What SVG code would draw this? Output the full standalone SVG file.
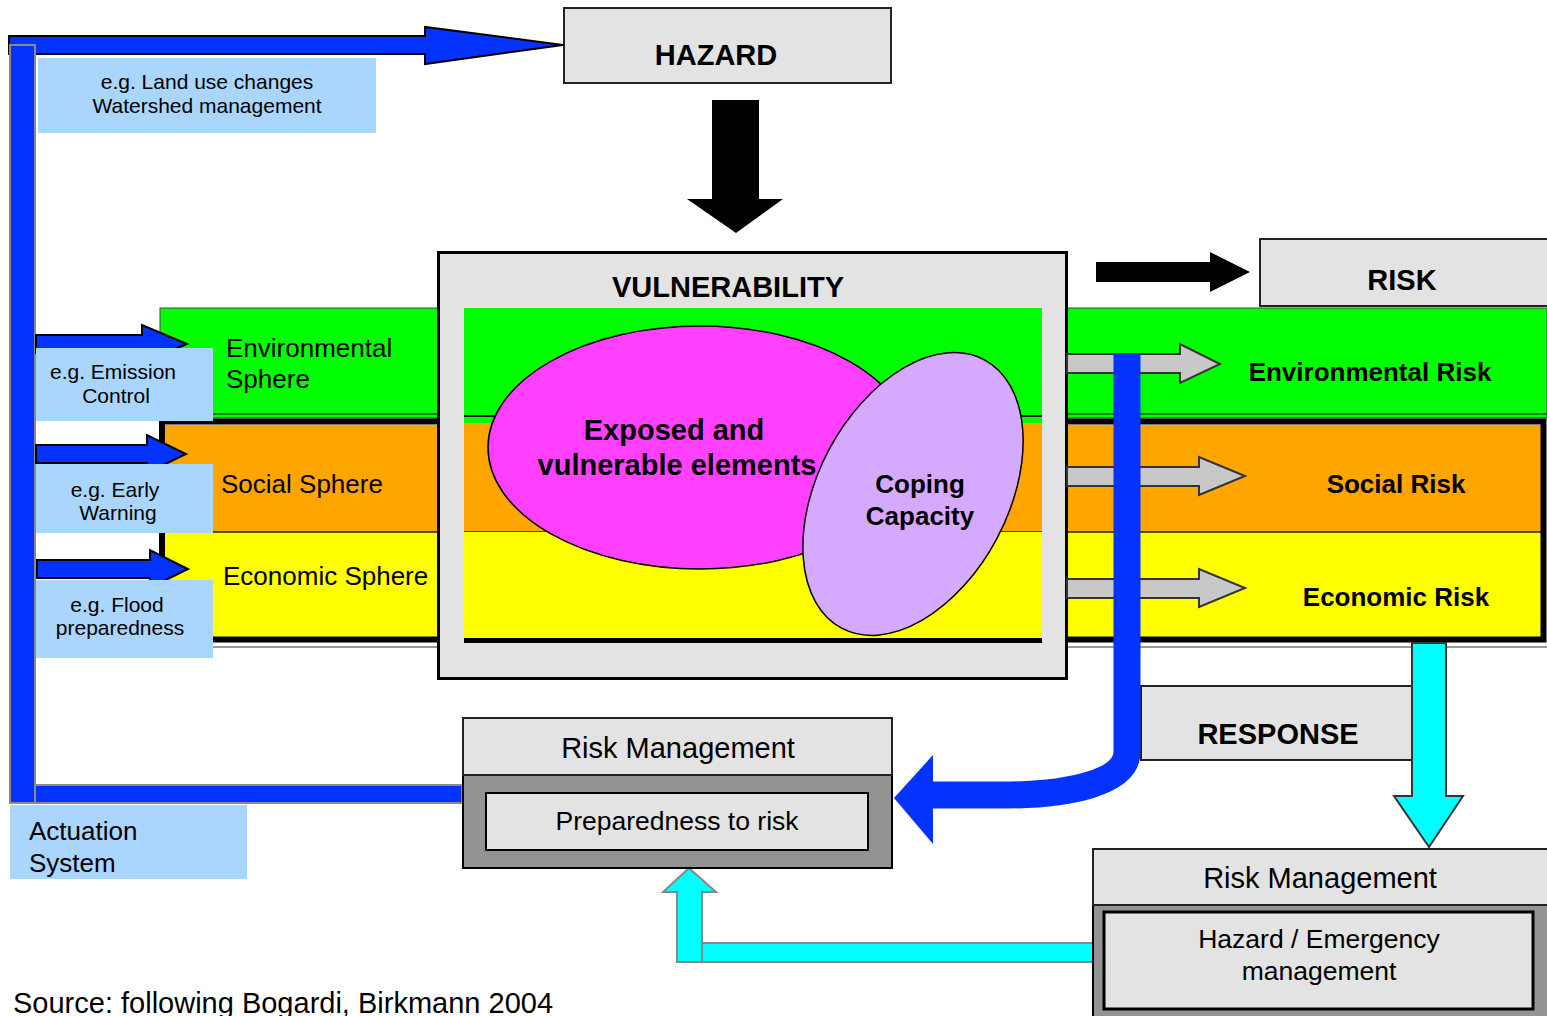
<svg xmlns="http://www.w3.org/2000/svg" width="1547" height="1016" viewBox="0 0 1547 1016">
<style>
text{font-family:"Liberation Sans",Arial,sans-serif;fill:#000}
.b{font-weight:bold}
.box{fill:#e3e3e3;stroke:#222;stroke-width:2}
.lbl{fill:#aad5fd}
.blue{fill:#0433ff;stroke:#000;stroke-width:2}
.bar{fill:#0433ff;stroke:#8a8a8a;stroke-width:2}
.gray{fill:#c8c8c8;stroke:#333;stroke-width:2}
.cyan{fill:#00ffff;stroke:#888;stroke-width:2}
.s21{font-size:21px}.s26{font-size:26px}.s265{font-size:26.5px}.s29{font-size:29px}
</style>
<rect width="1547" height="1016" fill="#fff"/>

<g id="bands">
  <rect x="160" y="308" width="1387" height="110" fill="#00ff00" stroke="#444" stroke-width="1"/>
  <line x1="160" y1="414" x2="1547" y2="414" stroke="#225522" stroke-width="1.5"/>
  <rect x="163" y="425" width="1379" height="107" fill="#ffa500"/>
  <rect x="163" y="532" width="1379" height="106" fill="#ffff00"/>
  <line x1="163" y1="532" x2="1542" y2="532" stroke="#222" stroke-width="1.5"/>
  <rect x="162" y="421.5" width="1381.5" height="218" fill="none" stroke="#000" stroke-width="6"/>
  <line x1="160" y1="647" x2="1547" y2="647" stroke="#999" stroke-width="2"/>
  <text class="s26" x="226" y="357">Environmental</text>
  <text class="s26" x="226" y="388">Sphere</text>
  <text class="s26" x="221" y="493">Social Sphere</text>
  <text class="s26" x="223" y="585">Economic Sphere</text>
  <text class="s26 b" x="1370" y="381" text-anchor="middle">Environmental Risk</text>
  <text class="s26 b" x="1396" y="493" text-anchor="middle">Social Risk</text>
  <text class="s26 b" x="1396" y="606" text-anchor="middle">Economic Risk</text>
</g>

<g id="vulnerability">
  <rect x="438.5" y="252.5" width="628" height="426" fill="#e3e3e3" stroke="#000" stroke-width="3"/>
  <rect x="464" y="308" width="578" height="107" fill="#00ff00"/>
  <rect x="464" y="415" width="578" height="2" fill="#111"/>
  <rect x="464" y="417" width="578" height="6" fill="#00ff00"/>
  <rect x="464" y="423" width="578" height="109" fill="#ffa500"/>
  <line x1="464" y1="532" x2="1042" y2="532" stroke="#222" stroke-width="1.5"/>
  <rect x="464" y="532" width="578" height="106" fill="#ffff00"/>
  <rect x="464" y="638" width="578" height="5" fill="#000"/>
  <text class="s29 b" x="728" y="297" text-anchor="middle">VULNERABILITY</text>
</g>

<g id="exposed">
  <ellipse cx="700" cy="447.5" rx="212" ry="121.5" fill="#ff40ff" stroke="#000" stroke-width="1.5"/>
  <text class="s29 b" x="674" y="440" text-anchor="middle">Exposed and</text>
  <text class="s29 b" x="677" y="475" text-anchor="middle">vulnerable elements</text>
</g>

<g id="coping">
  <ellipse cx="913" cy="494" rx="95" ry="152" transform="rotate(28 913 494)" fill="#d5a9fd" stroke="#000" stroke-width="1.5"/>
  <text class="s26 b" x="920" y="493" text-anchor="middle">Coping</text>
  <text class="s26 b" x="920" y="525" text-anchor="middle">Capacity</text>
</g>

<g id="hazard">
  <rect class="box" x="564" y="8" width="327" height="75"/>
  <text class="s29 b" x="716" y="65" text-anchor="middle">HAZARD</text>
</g>

<g id="risk">
  <rect class="box" x="1260" y="239" width="290" height="67"/>
  <text class="s29 b" x="1402" y="290" text-anchor="middle">RISK</text>
</g>

<g id="response">
  <rect class="box" x="1141" y="686" width="272" height="74"/>
  <text class="s29 b" x="1278" y="744" text-anchor="middle">RESPONSE</text>
</g>

<g id="connectors">
  <polygon points="712,100 759,100 759,199 783,199 736,233 687,199 712,199" fill="#000"/>
  <polygon points="1096,262 1210,262 1210,252 1250,272 1210,292 1210,282 1096,282" fill="#000"/>
  <polygon class="gray" points="1067,354 1180,354 1180,344 1220,364 1180,383 1180,373 1067,373"/>
  <polygon class="gray" points="1067,467 1199,467 1199,457 1245,476 1199,495 1199,486 1067,486"/>
  <polygon class="gray" points="1067,579 1199,579 1199,569 1245,588 1199,607 1199,598 1067,598"/>
  <path d="M1127,353 V752 C1127,782 1070,795 1005,795 H925" fill="none" stroke="#0433ff" stroke-width="27"/>
  <polygon points="894,798 933,755 933,844" fill="#0433ff"/>
  <polygon class="cyan" points="1412,643 1446,643 1446,796 1463,796 1429,847 1394,796 1412,796" style="stroke:#333"/>
  <polygon class="cyan" points="1093,943 1093,962 677,962 677,892 663,892 689,868 716,892 702,892 702,943"/>
  <line x1="702" y1="943" x2="702" y2="962" stroke="#888" stroke-width="2"/>
  <polygon class="blue" points="9,36 425,36 425,27 563,45 425,64 425,54 9,54"/>
  <rect class="bar" x="10" y="785" width="452" height="18"/>
  <rect class="bar" x="10" y="45" width="25" height="758"/>
  <polygon class="blue" points="36,335 142,335 142,325 187,344 142,363 142,353 36,353"/>
  <polygon class="blue" points="36,445 147,445 147,435 186,454 147,473 147,463 36,463"/>
  <polygon class="blue" points="37,560 150,560 150,550 188,569 150,588 150,578 37,578"/>
</g>

<g id="label-landuse">
  <rect class="lbl" x="38" y="58" width="338" height="75"/>
  <text class="s21" x="207" y="89" text-anchor="middle">e.g. Land use changes</text>
  <text class="s21" x="207" y="113" text-anchor="middle">Watershed management</text>
</g>
<g id="label-emission">
  <rect class="lbl" x="36" y="348" width="177" height="73"/>
  <text class="s21" x="113" y="379" text-anchor="middle">e.g. Emission</text>
  <text class="s21" x="116" y="403" text-anchor="middle">Control</text>
</g>
<g id="label-early">
  <rect class="lbl" x="36" y="464" width="177" height="69"/>
  <text class="s21" x="115" y="497" text-anchor="middle">e.g. Early</text>
  <text class="s21" x="118" y="520" text-anchor="middle">Warning</text>
</g>
<g id="label-flood">
  <rect class="lbl" x="36" y="580" width="177" height="78"/>
  <text class="s21" x="117" y="612" text-anchor="middle">e.g. Flood</text>
  <text class="s21" x="120" y="635" text-anchor="middle">preparedness</text>
</g>
<g id="label-actuation">
  <rect class="lbl" x="10" y="805" width="237" height="74"/>
  <text class="s26" x="29" y="840">Actuation</text>
  <text class="s26" x="29" y="872">System</text>
</g>

<g id="rm-preparedness">
  <rect x="463" y="775" width="429" height="93" fill="#939393" stroke="#000" stroke-width="2"/>
  <rect x="463" y="718" width="429" height="57" fill="#e3e3e3" stroke="#222" stroke-width="2"/>
  <rect x="486" y="793" width="382" height="57" fill="#e3e3e3" stroke="#000" stroke-width="2"/>
  <text class="s29" x="678" y="758" text-anchor="middle">Risk Management</text>
  <text class="s265" x="677" y="830" text-anchor="middle">Preparedness to risk</text>
</g>

<g id="rm-hazard">
  <rect x="1093" y="905" width="460" height="120" fill="#939393" stroke="#000" stroke-width="2"/>
  <rect x="1093" y="849" width="460" height="56" fill="#e3e3e3" stroke="#222" stroke-width="2"/>
  <rect x="1104" y="912" width="429" height="97" fill="#e3e3e3" stroke="#000" stroke-width="3"/>
  <text class="s29" x="1320" y="888" text-anchor="middle">Risk Management</text>
  <text class="s265" x="1319" y="948" text-anchor="middle">Hazard / Emergency</text>
  <text class="s265" x="1319" y="980" text-anchor="middle">management</text>
</g>

<text x="13" y="1013" style="font-size:29px">Source: following Bogardi, Birkmann 2004</text>
</svg>
